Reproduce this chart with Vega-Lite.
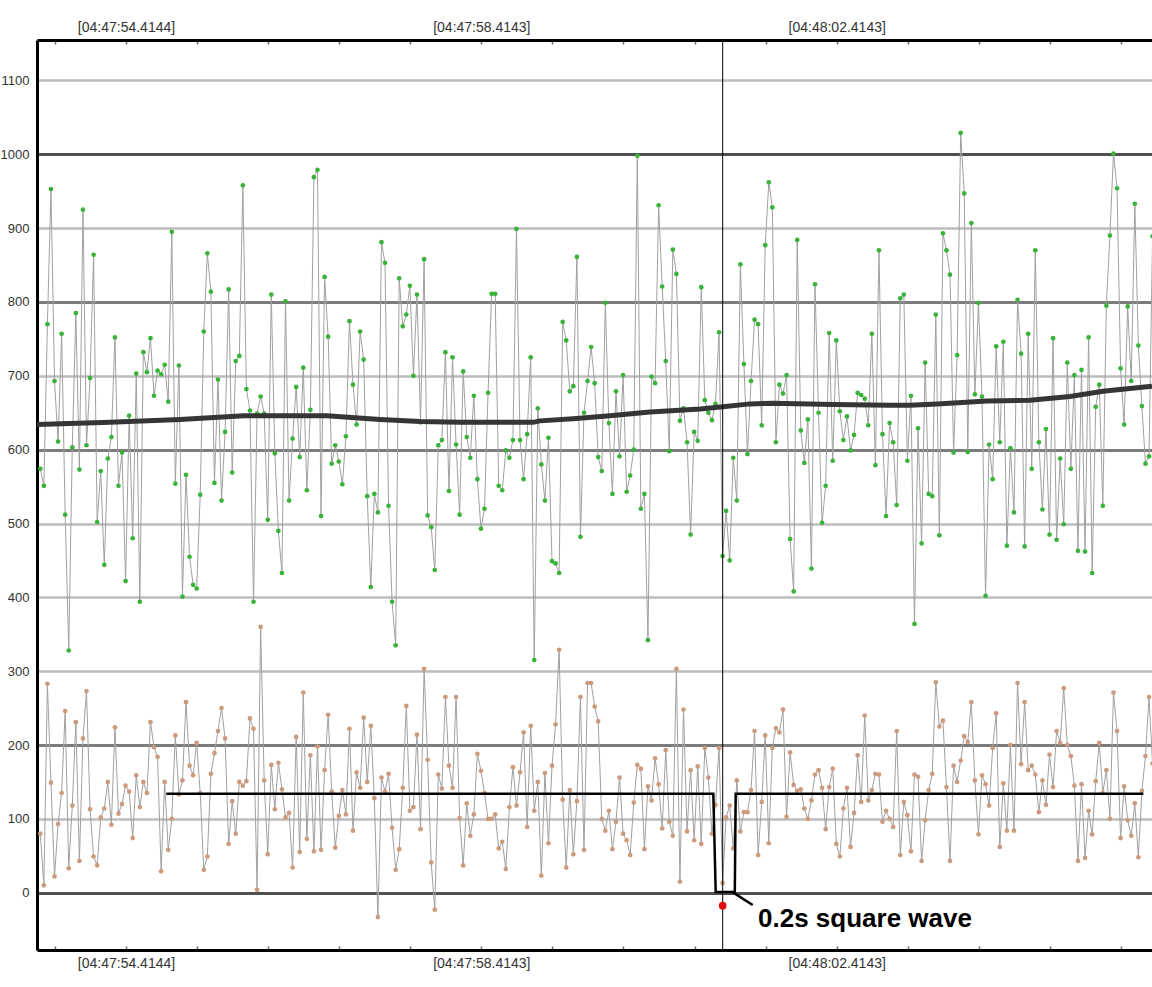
{
  "$schema": "https://vega.github.io/schema/vega-lite/v6.json",
  "width": 1115,
  "height": 910,
  "autosize": {"type": "none"},
  "padding": {"left": 37, "top": 40, "right": 0, "bottom": 37},
  "background": "white",
  "config": {"view": {"stroke": null}, "font": "Liberation Sans"},
  "datasets": {
    "samples": [
      {"k":0,"g":574,"o":80},{"k":1,"g":551,"o":10},{"k":2,"g":770,"o":283},{"k":3,"g":953,"o":149},{"k":4,"g":693,"o":22},
      {"k":5,"g":611,"o":93},{"k":6,"g":757,"o":135},{"k":7,"g":512,"o":246},{"k":8,"g":328,"o":33},{"k":9,"g":603,"o":118},
      {"k":10,"g":785,"o":231},{"k":11,"g":573,"o":43},{"k":12,"g":925,"o":209},{"k":13,"g":606,"o":273},{"k":14,"g":697,"o":113},
      {"k":15,"g":864,"o":49},{"k":16,"g":502,"o":37},{"k":17,"g":571,"o":102},{"k":18,"g":444,"o":114},{"k":19,"g":588,"o":150},
      {"k":20,"g":617,"o":92},{"k":21,"g":752,"o":224},{"k":22,"g":551,"o":107},{"k":23,"g":596,"o":120},{"k":24,"g":422,"o":145},
      {"k":25,"g":646,"o":137},{"k":26,"g":480,"o":74},{"k":27,"g":703,"o":159},{"k":28,"g":394,"o":116},{"k":29,"g":732,"o":150},
      {"k":30,"g":705,"o":135},{"k":31,"g":751,"o":231},{"k":32,"g":673,"o":197},{"k":33,"g":707,"o":184},{"k":34,"g":702,"o":29},
      {"k":35,"g":715,"o":150},{"k":36,"g":665,"o":58},{"k":37,"g":895,"o":100},{"k":38,"g":554,"o":213},{"k":39,"g":714,"o":133},
      {"k":40,"g":401,"o":152},{"k":41,"g":566,"o":258},{"k":42,"g":455,"o":172},{"k":43,"g":417,"o":159},{"k":44,"g":412,"o":203},
      {"k":45,"g":539,"o":135},{"k":46,"g":760,"o":31},{"k":47,"g":866,"o":49},{"k":48,"g":814,"o":161},{"k":49,"g":555,"o":189},
      {"k":50,"g":695,"o":219},{"k":51,"g":531,"o":250},{"k":52,"g":624,"o":209},{"k":53,"g":817,"o":66},{"k":54,"g":569,"o":124},
      {"k":55,"g":720,"o":80},{"k":56,"g":727,"o":150},{"k":57,"g":958,"o":145},{"k":58,"g":682,"o":151},{"k":59,"g":653,"o":236},
      {"k":60,"g":394,"o":222},{"k":61,"g":649,"o":4},{"k":62,"g":672,"o":360},{"k":63,"g":649,"o":152},{"k":64,"g":505,"o":52},
      {"k":65,"g":810,"o":173},{"k":66,"g":595,"o":113},{"k":67,"g":490,"o":176},{"k":68,"g":433,"o":140},{"k":69,"g":801,"o":102},
      {"k":70,"g":531,"o":108},{"k":71,"g":615,"o":34},{"k":72,"g":685,"o":211},{"k":73,"g":590,"o":55},{"k":74,"g":711,"o":271},
      {"k":75,"g":545,"o":73},{"k":76,"g":654,"o":186},{"k":77,"g":969,"o":56},{"k":78,"g":979,"o":198},{"k":79,"g":510,"o":58},
      {"k":80,"g":834,"o":166},{"k":81,"g":753,"o":241},{"k":82,"g":581,"o":137},{"k":83,"g":606,"o":61},{"k":84,"g":584,"o":104},
      {"k":85,"g":553,"o":139},{"k":86,"g":618,"o":106},{"k":87,"g":774,"o":222},{"k":88,"g":688,"o":84},{"k":89,"g":634,"o":163},
      {"k":90,"g":760,"o":142},{"k":91,"g":722,"o":237},{"k":92,"g":537,"o":150},{"k":93,"g":414,"o":226},{"k":94,"g":540,"o":128},
      {"k":95,"g":515,"o":-33},{"k":96,"g":881,"o":156},{"k":97,"g":853,"o":137},{"k":98,"g":524,"o":161},{"k":99,"g":394,"o":88},
      {"k":100,"g":335,"o":31},{"k":101,"g":832,"o":59},{"k":102,"g":767,"o":142},{"k":103,"g":783,"o":253},{"k":104,"g":822,"o":111},
      {"k":105,"g":700,"o":116},{"k":106,"g":810,"o":214},{"k":107,"g":637,"o":86},{"k":108,"g":858,"o":303},{"k":109,"g":511,"o":180},
      {"k":110,"g":495,"o":41},{"k":111,"g":437,"o":-23},{"k":112,"g":606,"o":160},{"k":113,"g":613,"o":141},{"k":114,"g":732,"o":265},
      {"k":115,"g":544,"o":172},{"k":116,"g":725,"o":142},{"k":117,"g":607,"o":265},{"k":118,"g":512,"o":101},{"k":119,"g":706,"o":37},
      {"k":120,"g":617,"o":121},{"k":121,"g":589,"o":77},{"k":122,"g":673,"o":106},{"k":123,"g":560,"o":188},{"k":124,"g":493,"o":165},
      {"k":125,"g":520,"o":135},{"k":126,"g":677,"o":100},{"k":127,"g":811,"o":100},{"k":128,"g":811,"o":106},{"k":129,"g":551,"o":60},
      {"k":130,"g":545,"o":69},{"k":131,"g":599,"o":32},{"k":132,"g":589,"o":116},{"k":133,"g":613,"o":170},{"k":134,"g":899,"o":118},
      {"k":135,"g":613,"o":163},{"k":136,"g":560,"o":217},{"k":137,"g":621,"o":89},{"k":138,"g":725,"o":226},{"k":139,"g":315,"o":111},
      {"k":140,"g":656,"o":150},{"k":141,"g":580,"o":23},{"k":142,"g":531,"o":162},{"k":143,"g":616,"o":67},{"k":144,"g":449,"o":172},
      {"k":145,"g":446,"o":228},{"k":146,"g":433,"o":329},{"k":147,"g":773,"o":126},{"k":148,"g":748,"o":34},{"k":149,"g":679,"o":139},
      {"k":150,"g":686,"o":52},{"k":151,"g":861,"o":124},{"k":152,"g":482,"o":265},{"k":153,"g":650,"o":58},{"k":154,"g":693,"o":284},
      {"k":155,"g":739,"o":284},{"k":156,"g":690,"o":252},{"k":157,"g":590,"o":232},{"k":158,"g":571,"o":100},{"k":159,"g":799,"o":84},
      {"k":160,"g":636,"o":111},{"k":161,"g":540,"o":59},{"k":162,"g":679,"o":96},{"k":163,"g":591,"o":156},{"k":164,"g":701,"o":80},
      {"k":165,"g":543,"o":71},{"k":166,"g":565,"o":51},{"k":167,"g":600,"o":122},{"k":168,"g":998,"o":173},{"k":169,"g":520,"o":168},
      {"k":170,"g":540,"o":59},{"k":171,"g":342,"o":144},{"k":172,"g":699,"o":125},{"k":173,"g":690,"o":182},{"k":174,"g":931,"o":147},
      {"k":175,"g":821,"o":87},{"k":176,"g":720,"o":193},{"k":177,"g":598,"o":96},{"k":178,"g":871,"o":77},{"k":179,"g":838,"o":303},
      {"k":180,"g":639,"o":15},{"k":181,"g":656,"o":248},{"k":182,"g":610,"o":83},{"k":183,"g":485,"o":166},{"k":184,"g":624,"o":71},
      {"k":185,"g":612,"o":171},{"k":186,"g":820,"o":66},{"k":187,"g":667,"o":196},{"k":188,"g":650,"o":156},{"k":189,"g":640,"o":80},
      {"k":190,"g":662,"o":119},{"k":191,"g":759,"o":196},{"k":192,"g":456,"o":13},{"k":193,"g":517,"o":102},{"k":194,"g":450,"o":118},
      {"k":195,"g":589,"o":60},{"k":196,"g":531,"o":152},{"k":197,"g":851,"o":83},{"k":198,"g":716,"o":109},{"k":199,"g":594,"o":109},
      {"k":200,"g":693,"o":139},{"k":201,"g":776,"o":219},{"k":202,"g":770,"o":51},{"k":203,"g":633,"o":123},{"k":204,"g":877,"o":213},
      {"k":205,"g":962,"o":67},{"k":206,"g":928,"o":196},{"k":207,"g":610,"o":223},{"k":208,"g":688,"o":217},{"k":209,"g":676,"o":248},
      {"k":210,"g":701,"o":103},{"k":211,"g":479,"o":190},{"k":212,"g":408,"o":146},{"k":213,"g":884,"o":138},{"k":214,"g":626,"o":140},
      {"k":215,"g":582,"o":114},{"k":216,"g":641,"o":100},{"k":217,"g":439,"o":125},{"k":218,"g":824,"o":160},{"k":219,"g":650,"o":166},
      {"k":220,"g":501,"o":142},{"k":221,"g":551,"o":86},{"k":222,"g":758,"o":143},{"k":223,"g":585,"o":168},{"k":224,"g":748,"o":66},
      {"k":225,"g":652,"o":49},{"k":226,"g":613,"o":114},{"k":227,"g":645,"o":142},{"k":228,"g":599,"o":62},{"k":229,"g":620,"o":108},
      {"k":230,"g":677,"o":186},{"k":231,"g":674,"o":123},{"k":232,"g":669,"o":240},{"k":233,"g":633,"o":125},{"k":234,"g":757,"o":139},
      {"k":235,"g":579,"o":161},{"k":236,"g":870,"o":160},{"k":237,"g":621,"o":96},{"k":238,"g":510,"o":111},{"k":239,"g":636,"o":100},
      {"k":240,"g":610,"o":89},{"k":241,"g":525,"o":219},{"k":242,"g":805,"o":51},{"k":243,"g":810,"o":123},{"k":244,"g":585,"o":105},
      {"k":245,"g":673,"o":56},{"k":246,"g":364,"o":160},{"k":247,"g":629,"o":157},{"k":248,"g":473,"o":43},{"k":249,"g":718,"o":98},
      {"k":250,"g":540,"o":139},{"k":251,"g":537,"o":161},{"k":252,"g":783,"o":285},{"k":253,"g":484,"o":225},{"k":254,"g":893,"o":233},
      {"k":255,"g":870,"o":143},{"k":256,"g":837,"o":43},{"k":257,"g":596,"o":172},{"k":258,"g":728,"o":150},{"k":259,"g":1029,"o":179},
      {"k":260,"g":947,"o":212},{"k":261,"g":597,"o":204},{"k":262,"g":907,"o":258},{"k":263,"g":675,"o":152},{"k":264,"g":799,"o":79},
      {"k":265,"g":672,"o":159},{"k":266,"g":402,"o":147},{"k":267,"g":607,"o":118},{"k":268,"g":560,"o":196},{"k":269,"g":740,"o":243},
      {"k":270,"g":610,"o":62},{"k":271,"g":746,"o":148},{"k":272,"g":470,"o":84},{"k":273,"g":602,"o":200},{"k":274,"g":515,"o":84},
      {"k":275,"g":803,"o":284},{"k":276,"g":730,"o":174},{"k":277,"g":469,"o":258},{"k":278,"g":757,"o":166},{"k":279,"g":574,"o":172},
      {"k":280,"g":870,"o":160},{"k":281,"g":610,"o":109},{"k":282,"g":519,"o":152},{"k":283,"g":628,"o":119},{"k":284,"g":485,"o":187},
      {"k":285,"g":751,"o":143},{"k":286,"g":478,"o":219},{"k":287,"g":588,"o":203},{"k":288,"g":499,"o":277},{"k":289,"g":718,"o":200},
      {"k":290,"g":574,"o":185},{"k":291,"g":701,"o":145},{"k":292,"g":463,"o":43},{"k":293,"g":708,"o":147},{"k":294,"g":462,"o":47},
      {"k":295,"g":752,"o":111},{"k":296,"g":433,"o":79},{"k":297,"g":658,"o":151},{"k":298,"g":688,"o":203},{"k":299,"g":524,"o":135},
      {"k":300,"g":795,"o":166},{"k":301,"g":890,"o":100},{"k":302,"g":1001,"o":271},{"k":303,"g":954,"o":219},{"k":304,"g":710,"o":74},
      {"k":305,"g":634,"o":144},{"k":306,"g":794,"o":98},{"k":307,"g":693,"o":77},{"k":308,"g":933,"o":121},{"k":309,"g":741,"o":48},
      {"k":310,"g":659,"o":138},{"k":311,"g":581,"o":185},{"k":312,"g":591,"o":265},{"k":313,"g":889,"o":175}
    ],
    "trend": [
      {"k":-0.93,"v":634},{"k":19.61,"v":637},{"k":39.31,"v":641},{"k":57.32,"v":646},{"k":80.68,"v":646},
      {"k":95.6,"v":641},{"k":106.85,"v":638},{"k":118.11,"v":637},{"k":138.65,"v":637},{"k":140.62,"v":639},
      {"k":149.91,"v":642},{"k":160.32,"v":646},{"k":171.58,"v":651},{"k":185.65,"v":655},{"k":192.12,"v":658},
      {"k":199.72,"v":662},{"k":206.19,"v":663},{"k":223.07,"v":661},{"k":239.11,"v":660},{"k":244.74,"v":660},
      {"k":252.34,"v":662},{"k":266.41,"v":666},{"k":278.51,"v":667},{"k":289.77,"v":672},{"k":299.05,"v":679},
      {"k":312.84,"v":686}
    ],
    "square": [
      {"k":35.46,"v":134},{"k":189.39,"v":134},{"k":190.06,"v":1},{"k":195.44,"v":1},{"k":195.69,"v":134},{"k":310.39,"v":134}
    ]
  },
  "layer": [
    {
      "data": {"name": "samples"},
      "mark": {"type": "line", "color": "#a0a0a0", "strokeWidth": 1, "clip": true},
      "encoding": {
        "x": {"field": "k", "type": "quantitative",
          "scale": {"domain": [-0.93, 312.84], "nice": false, "zero": false},
          "axis": {"orient": "bottom", "title": null, "grid": false,
            "values": [4.11,24.11,44.11,64.11,84.11,104.11,124.11,144.11,164.11,184.11,204.11,224.11,244.11,264.11,284.11,304.11],
            "labelExpr": "datum.value > 24 && datum.value < 25 ? '[04:47:54.4144]' : datum.value > 124 && datum.value < 125 ? '[04:47:58.4143]' : datum.value > 224 && datum.value < 225 ? '[04:48:02.4143]' : ''",
            "domainColor": "#000000", "domainWidth": 3, "tickColor": "#666666", "tickSize": -4, "tickWidth": 1.5,
            "labelPadding": 10, "labelFontSize": 14, "labelColor": "#333333", "labelFlush": false, "labelOverlap": false}},
        "y": {"field": "g", "type": "quantitative", "title": null,
          "scale": {"domain": [-77.6, 1154.8], "nice": false, "zero": false},
          "axis": {"title": null, "values": [0,100,200,300,400,500,600,700,800,900,1000,1100], "format": "d",
            "grid": true,
            "gridColor": {"condition": [{"test": "datum.value === 0 || datum.value === 1000", "value": "#505050"}, {"test": "datum.value === 200 || datum.value === 600 || datum.value === 800", "value": "#7c7c7c"}], "value": "#bcbcbc"},
            "gridWidth": {"condition": {"test": "datum.value === 0 || datum.value === 1000 || datum.value === 200 || datum.value === 600 || datum.value === 800", "value": 3}, "value": 2.5},
            "domainColor": "#000000", "domainWidth": 3, "ticks": false, "labelPadding": 8,
            "labelFontSize": 13, "labelColor": "#333333"}}
      }
    },
    {
      "data": {"name": "samples"},
      "mark": {"type": "line", "color": "#a0a0a0", "strokeWidth": 1, "clip": true},
      "encoding": {
        "x": {"field": "k", "type": "quantitative",
          "axis": {"orient": "top", "title": null, "grid": false,
            "values": [4.11,24.11,44.11,64.11,84.11,104.11,124.11,144.11,164.11,184.11,204.11,224.11,244.11,264.11,284.11,304.11],
            "labelExpr": "datum.value > 24 && datum.value < 25 ? '[04:47:54.4144]' : datum.value > 124 && datum.value < 125 ? '[04:47:58.4143]' : datum.value > 224 && datum.value < 225 ? '[04:48:02.4143]' : ''",
            "domainColor": "#000000", "domainWidth": 3, "tickColor": "#666666", "tickSize": -4, "tickWidth": 1.5,
            "labelPadding": 10, "labelFontSize": 14, "labelColor": "#333333", "labelFlush": false, "labelOverlap": false}},
        "y": {"field": "o", "type": "quantitative", "title": null}
      }
    },
    {
      "data": {"name": "samples"},
      "mark": {"type": "point", "filled": true, "color": "#38b238", "size": 22, "opacity": 1, "clip": true},
      "encoding": {
        "x": {"field": "k", "type": "quantitative", "axis": null},
        "y": {"field": "g", "type": "quantitative", "title": null}
      }
    },
    {
      "data": {"name": "samples"},
      "mark": {"type": "point", "filled": true, "color": "#cc9a7c", "size": 22, "opacity": 1, "clip": true},
      "encoding": {
        "x": {"field": "k", "type": "quantitative", "axis": null},
        "y": {"field": "o", "type": "quantitative", "title": null}
      }
    },
    {
      "data": {"name": "trend"},
      "mark": {"type": "line", "color": "#353535", "strokeWidth": 5, "clip": true},
      "encoding": {
        "x": {"field": "k", "type": "quantitative", "axis": null},
        "y": {"field": "v", "type": "quantitative", "title": null}
      }
    },
    {
      "data": {"name": "square"},
      "mark": {"type": "line", "color": "#000000", "strokeWidth": 2.5, "clip": true},
      "encoding": {
        "x": {"field": "k", "type": "quantitative", "axis": null},
        "y": {"field": "v", "type": "quantitative", "title": null}
      }
    },
    {
      "data": {"values": [{}]},
      "mark": {"type": "rule", "color": "#000000", "strokeWidth": 1},
      "encoding": {
        "x": {"datum": 192.03, "type": "quantitative", "axis": null}
      }
    },
    {
      "data": {"values": [{}]},
      "mark": {"type": "point", "filled": true, "color": "#e01010", "size": 60, "opacity": 1},
      "encoding": {
        "x": {"datum": 192.03, "type": "quantitative", "axis": null},
        "y": {"datum": -17.6, "type": "quantitative", "title": null}
      }
    },
    {
      "data": {"values": [{}]},
      "mark": {"type": "rule", "color": "#000000", "strokeWidth": 2.5},
      "encoding": {
        "x": {"datum": 194.56, "type": "quantitative", "axis": null},
        "x2": {"datum": 200.47},
        "y": {"datum": 1.4, "type": "quantitative", "title": null},
        "y2": {"datum": -16.7}
      }
    },
    {
      "data": {"values": [{}]},
      "mark": {"type": "text", "text": "0.2s square wave", "font": "Liberation Sans", "fontWeight": "bold", "fontSize": 26, "color": "#000000", "align": "left", "baseline": "alphabetic"},
      "encoding": {
        "x": {"datum": 201.97, "type": "quantitative", "axis": null},
        "y": {"datum": -46, "type": "quantitative", "title": null}
      }
    }
  ],
  "resolve": {"axis": {"x": "independent"}}
}
